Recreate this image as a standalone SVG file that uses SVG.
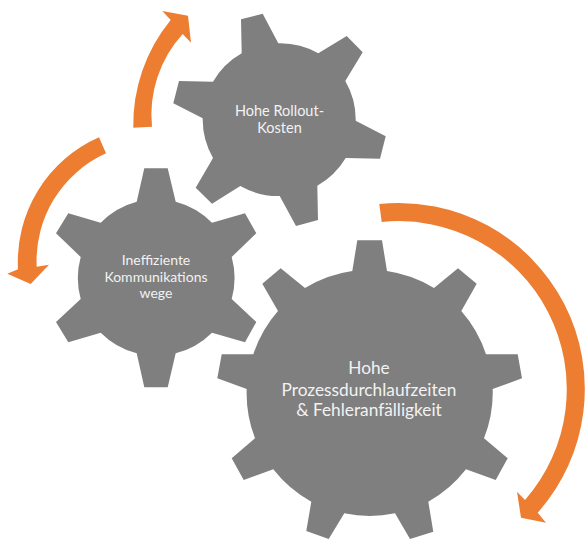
<svg xmlns="http://www.w3.org/2000/svg" width="585" height="539" viewBox="0 0 585 539">
<style>
.gear{fill:#7f7f7f}
.arrow{fill:#ed7d31}
text{font-family:"Lato","Open Sans","Liberation Sans",sans-serif;fill:#f2f2f2;text-anchor:middle}
.s{font-size:14.5px}
.m{font-size:14px}
.l{font-size:17.300px}
</style>
<rect width="585" height="539" fill="#ffffff"/>
<g id="connectors">
<path class="arrow" d="M379.300 204A186 186 0 0 1 537.700 512.700L546 522.700L521 517.700L517 491.700L525 500A168 168 0 0 0 381.700 222Z"/>
<path class="arrow" d="M99 137.300A136 136 0 0 0 18 269.300L7.300 273.700L30.700 284L49 264.700L36.700 266.700A118 118 0 0 1 106 153.300Z"/>
<path class="arrow" d="M133.300 127.700A165 165 0 0 1 170.700 20L162.300 11L188 15.700L191 42.700L182.700 34A120 120 0 0 0 152 126.700Z"/>
</g>
<g id="gear-rollout">
<path class="gear" d="M241 19.300L262.700 13.700L278.300 43.300A77 77 0 0 1 318.300 53.300L346.700 36L362.700 52.300L345.300 81A77 77 0 0 1 355.700 120.700L385.700 136.300L380 158.700L345.700 158A77 77 0 0 1 317.300 185.700L318 220L296 226L279.700 196A77 77 0 0 1 240.300 186L212 203.700L195.700 187.700L213 158A77 77 0 0 1 202.700 118.300L173.300 103.300L179 81L213 81.700A77 77 0 0 1 241.700 53.300Z"/>
<text class="s" x="279.500" y="116">Hohe Rollout-</text>
<text class="s" x="279.500" y="132.700">Kosten</text>
</g>
<g id="gear-kommunikation">
<path class="gear" d="M144.300 168.300L167.700 168.300L175.700 201.700A79 79 0 0 1 212 222.700L245 213.300L256.300 233.300L231.700 257A79 79 0 0 1 231.700 299L256.300 322L245 342.300L212 332.700A79 79 0 0 1 175.700 353.300L167.700 387.300L144.300 387.300L136.700 353.300A79 79 0 0 1 100.700 332.700L68.300 342.300L56 322L80.700 299A79 79 0 0 1 80.700 257L56 233.300L68.300 213.300L100.700 222.700A79 79 0 0 1 136.700 201.700Z"/>
<text class="m" x="156" y="265">Ineffiziente</text>
<text class="m" x="156" y="281.700">Kommunikations</text>
<text class="m" x="156" y="297.700">wege</text>
</g>
<g id="gear-prozess">
<path class="gear" d="M357.300 240.300L382 240.300L387 271A123.500 123.500 0 0 1 434 288L458 268.300L476.700 283.700L461.300 311A123.500 123.500 0 0 1 486 354.300L517.700 354.300L522 378.300L492.700 389A123.500 123.500 0 0 1 484 438.300L507.700 458.300L495.700 480L466 469.300A123.500 123.500 0 0 1 428.300 501.700L433.300 531.700L410 539L395 513.300A123.500 123.500 0 0 1 344.300 513.300L328.700 539L306.300 531L311.300 501.700A123.500 123.500 0 0 1 273.300 469.300L243.700 480L231.700 458.300L255 438.300A123.500 123.500 0 0 1 246.700 389L217.300 378.300L221.700 354.300L253.300 354.300A123.500 123.500 0 0 1 278 311L262.300 283.700L280.700 268.300L305 288A123.500 123.500 0 0 1 352.300 271Z"/>
<text class="l" x="369" y="374.300">Hohe</text>
<text class="l" x="369" y="395.700">Prozessdurchlaufzeiten</text>
<text class="l" x="369" y="416">&amp; Fehleranfälligkeit</text>
</g>
</svg>
